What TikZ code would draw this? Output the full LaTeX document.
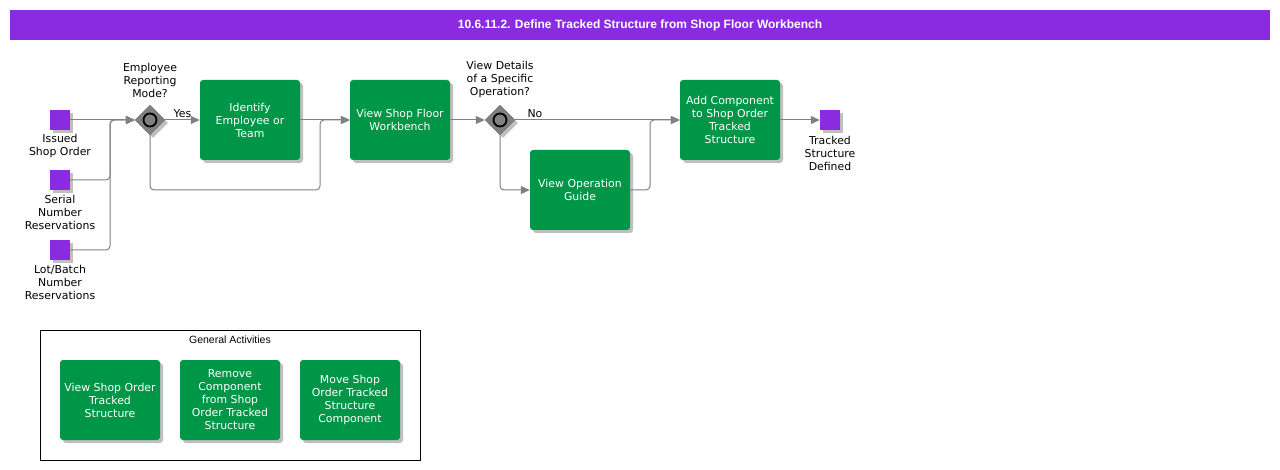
\documentclass[tikz,border=0pt]{standalone}
\usepackage{fontspec}
\setmainfont{DejaVu Sans}
\newfontfamily\arialfont{Liberation Sans}
\usetikzlibrary{shapes.geometric,arrows.meta,shadows}
\definecolor{evpurple}{RGB}{138,43,226}
\definecolor{taskgreen}{RGB}{0,150,72}
\definecolor{flowgray}{RGB}{128,128,128}

\begin{document}
\begin{tikzpicture}[x=1pt,y=-1pt,
  font=\fontsize{10.9}{13}\selectfont,
  node distance=100pt,
  softshadow/.style={drop shadow={shadow xshift=3pt,shadow yshift=-3pt,fill=black,opacity=0.25}},
  task/.style={rectangle, rounded corners=3pt, fill=taskgreen, text=white, minimum width=100pt, minimum height=80pt, inner sep=0pt, align=center, softshadow},
  event/.style={rectangle, fill=evpurple, minimum size=20pt, inner sep=0pt, softshadow},
  gateway/.style={diamond, draw=black!55, fill=flowgray, minimum size=30pt, inner sep=0pt, softshadow,
    path picture={\draw[draw=black, line width=1.8pt] (path picture bounding box.center) circle (6.5pt);}},
  tag/.style={align=center, inner sep=0pt, text=black},
  flow/.style={draw=flowgray, line width=1pt, rounded corners=4pt, -{Triangle[length=9pt,width=8pt]}}]
  \useasboundingbox (0,0) rectangle (1280,470);

  % title bar
  \node (title) [fill=evpurple, text=white, minimum width=1260pt, minimum height=30pt, font=\arialfont\bfseries\fontsize{12}{14}\selectfont] at (640,25) {10.6.11.2. Define Tracked Structure from Shop Floor Workbench};

  % start events
  \node (issued) [event, label={[tag, label distance=4pt]below:Issued\\Shop Order}] at (60,120) {};
  \node (serial) [event, label={[tag, label distance=5pt]below:Serial\\Number\\Reservations}] at (60,180) {};
  \node (lot) [event, label={[tag, label distance=5pt]below:Lot/Batch\\Number\\Reservations}] at (60,250) {};

  % main flow
  \node (gw1) [gateway, label={[tag, label distance=7pt]above:Employee\\Reporting\\Mode?}] at (150,120) {};
  \node (identify) [task, right of=gw1] {Identify\\Employee or\\Team};
  \node (workbench) [task, right of=identify, xshift=50pt] {View Shop Floor\\Workbench};
  \node (gw2) [gateway, right of=workbench, label={[tag, label distance=7pt]above:View Details\\of a Specific\\Operation?}] {};
  \node (guide) [task, below of=gw2, xshift=80pt, yshift=30pt] {View Operation\\Guide};
  \node (addcomp) [task, right of=gw2, xshift=130pt] {Add Component\\to Shop Order\\Tracked\\Structure};
  \node (done) [event, right of=addcomp, label={[tag, label distance=6pt]below:Tracked\\Structure\\Defined}] {};

  \coordinate (join1) at (110,120);
  \coordinate (skip) at (320,190);
  \coordinate (merge) at (650,190);

  \draw[flow] (issued) -- (gw1);
  \draw[flow] (serial) -| (join1) -- (gw1);
  \draw[flow] (lot) -| (join1) -- (gw1);
  \draw[flow] (gw1) -- node[above, inner sep=2pt, text=black] {Yes} (identify);
  \draw[flow] (identify) -- (workbench);
  \draw[flow] (gw1.south) |- (skip) |- (workbench);
  \draw[flow] (workbench) -- (gw2);
  \draw[flow] (gw2) -- node[above, pos=0.12, inner sep=2pt, text=black] {No} (addcomp);
  \draw[flow] (gw2.south) |- (guide);
  \draw[flow] (guide) -- (merge) |- (addcomp);
  \draw[flow] (addcomp) -- (done);

  % general activities
  \node (general) [draw, line width=0.8pt, minimum width=380pt, minimum height=130pt, inner sep=0pt] at (230,395) {};
  \node (gentitle) [font=\arialfont\fontsize{10.5}{12}\selectfont, inner sep=0pt, anchor=north, yshift=-6pt] at (general.north) {General Activities};
  \node (viewtracked) [task] at (110,400) {View Shop Order\\Tracked\\Structure};
  \node (removecomp) [task, right of=viewtracked, xshift=20pt] {Remove\\Component\\from Shop\\Order Tracked\\Structure};
  \node (movecomp) [task, right of=removecomp, xshift=20pt] {Move Shop\\Order Tracked\\Structure\\Component};
\end{tikzpicture}
\end{document}
